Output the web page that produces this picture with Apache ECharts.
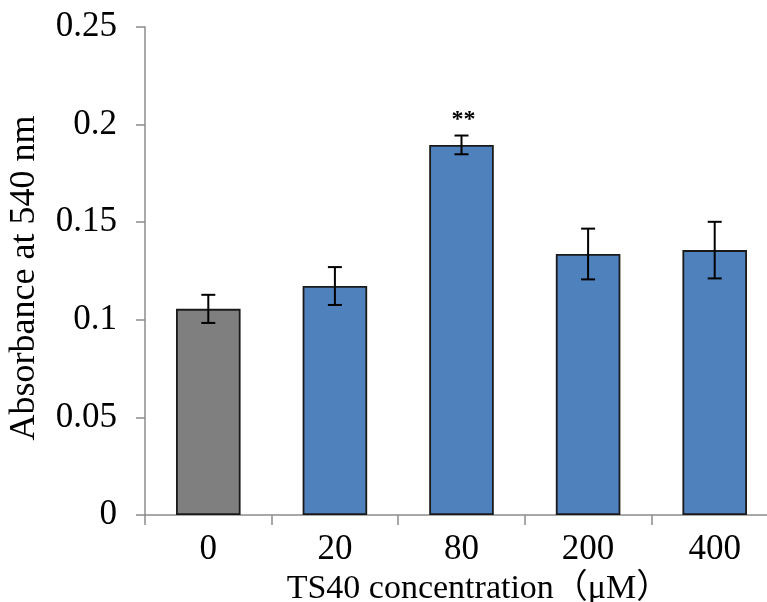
<!DOCTYPE html>
<html>
<head>
<meta charset="utf-8">
<script src="https://cdn.jsdelivr.net/npm/echarts@6/dist/echarts.min.js"></script>
<style>
  html, body { margin: 0; padding: 0; background: #fff; }
  #chart { width: 767px; height: 602px; }
</style>
</head>
<body>
<div id="chart"></div>
<script>
// TS40 concentration groups (µM) and mean absorbance at 540 nm
const categories = ['0', '20', '80', '200', '400'];
const absorbance = [0.1056, 0.1173, 0.1896, 0.1337, 0.1357];
const stdError = [0.0072, 0.0097, 0.0048, 0.0130, 0.0145];
const significance = ['', '', '**', '', ''];
const barColors = ['#7f7f7f', '#4f81bd', '#4f81bd', '#4f81bd', '#4f81bd'];
const yTicks = [0, 0.05, 0.1, 0.15, 0.2, 0.25];

const FONT = '"Liberation Serif", "Times New Roman", "Noto Sans CJK SC", serif';
const AXIS_COLOR = '#8c8c8c';

const chart = echarts.init(document.getElementById('chart'), null, { renderer: 'canvas' });

const barData = absorbance.map((v, i) => ({
  value: v,
  itemStyle: { color: barColors[i] }
}));

const errData = absorbance.map((v, i) => [i, v - stdError[i], v + stdError[i], significance[i]]);

chart.setOption({
  animation: false,
  backgroundColor: '#ffffff',
  grid: {
    left: 145, top: 27, width: 633, height: 488,
    containLabel: false, outerBoundsMode: 'none'
  },
  xAxis: {
    type: 'category',
    data: categories,
    name: 'TS40 concentration（μM）',
    nameLocation: 'middle',
    nameGap: 57,
    nameTextStyle: { fontFamily: FONT, fontSize: 34, color: '#000', padding: [0, 0, 0, 34] },
    axisLine: { lineStyle: { color: AXIS_COLOR, width: 1.5 } },
    axisTick: { show: true, length: 10, lineStyle: { color: AXIS_COLOR, width: 1.5 } },
    axisLabel: { fontFamily: FONT, fontSize: 35, color: '#000', margin: 17 },
    splitLine: { show: false }
  },
  yAxis: {
    type: 'value',
    min: yTicks[0],
    max: yTicks[yTicks.length - 1],
    interval: 0.05,
    name: 'Absorbance at 540 nm',
    nameLocation: 'middle',
    nameGap: 102,
    nameTextStyle: { fontFamily: FONT, fontSize: 36, color: '#000', padding: [0, 14, 0, 0] },
    axisLine: { show: true, lineStyle: { color: AXIS_COLOR, width: 1.5 } },
    axisTick: { show: true, length: 9, lineStyle: { color: AXIS_COLOR, width: 1.5 } },
    axisLabel: {
      fontFamily: FONT, fontSize: 35, color: '#000', margin: 28,
      formatter: v => String(Math.round(v * 100) / 100)
    },
    splitLine: { show: false }
  },
  series: [
    {
      type: 'bar',
      data: barData,
      barWidth: '51%',
      itemStyle: { borderColor: '#1a1a1a', borderWidth: 1.8 },
      z: 2
    },
    {
      type: 'custom',
      data: errData,
      z: 3,
      renderItem: function (params, api) {
        const x = api.value(0);
        const lo = api.coord([x, api.value(1)]);
        const hi = api.coord([x, api.value(2)]);
        const cap = 7;
        const style = { stroke: '#000', lineWidth: 2 };
        const children = [
          { type: 'line', shape: { x1: hi[0], y1: hi[1], x2: lo[0], y2: lo[1] }, style },
          { type: 'line', shape: { x1: hi[0] - cap, y1: hi[1], x2: hi[0] + cap, y2: hi[1] }, style },
          { type: 'line', shape: { x1: lo[0] - cap, y1: lo[1], x2: lo[0] + cap, y2: lo[1] }, style }
        ];
        const mark = api.value(3);
        if (mark) {
          children.push({
            type: 'text',
            style: {
              text: mark, x: hi[0] + 2, y: hi[1] - 4,
              align: 'center', verticalAlign: 'bottom',
              font: 'bold 24px ' + FONT, fill: '#000'
            }
          });
        }
        return { type: 'group', children };
      }
    }
  ]
});
</script>
</body>
</html>
